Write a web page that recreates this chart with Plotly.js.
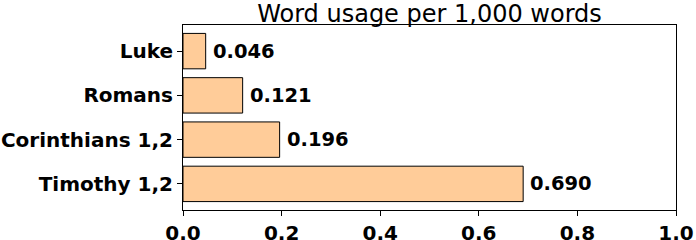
<!DOCTYPE html>
<html>
<head>
<meta charset="utf-8">
<script src="https://cdn.plot.ly/plotly-3.0.1.min.js"></script>
<style>
  html, body { margin: 0; padding: 0; background: #fff; }
  #chart { width: 696px; height: 240px; }
</style>
</head>
<body>
<div id="chart"></div>
<script>
// Word usage per 1,000 words, by book
const books = ["Luke", "Romans", "Corinthians 1,2", "Timothy 1,2"];
const usage = [0.046, 0.121, 0.196, 0.690];
const xTicks = [0, 0.2, 0.4, 0.6, 0.8, 1.0];
const xTickLabels = ["0.0", "0.2", "0.4", "0.6", "0.8", "1.0"];

const font = "DejaVu Sans, sans-serif";

const trace = {
  type: "bar",
  orientation: "h",
  y: books,
  x: usage,
  width: 0.8,
  marker: { color: "#ffcc99", line: { color: "#000", width: 1 } },
  hoverinfo: "none"
};

const annotations = usage.map((v, i) => ({
  x: v,
  y: books[i],
  xref: "x",
  yref: "y",
  text: v.toFixed(3),
  showarrow: false,
  xanchor: "left",
  yanchor: "middle",
  xshift: 5,
  font: { family: font, size: 19.5, color: "#000", weight: "bold" }
}));

const layout = {
  width: 696,
  height: 240,
  margin: { l: 183, r: 20, t: 25, b: 30 },
  paper_bgcolor: "#fff",
  plot_bgcolor: "#fff",
  showlegend: false,
  title: {
    text: "Word usage per 1,000 words",
    font: { family: font, size: 24, color: "#000" },
    x: 0.5, xref: "paper", xanchor: "center",
    y: 1, yref: "paper", yanchor: "bottom", pad: { b: 3 }
  },
  xaxis: {
    range: [0, 1],
    tickvals: xTicks,
    ticktext: xTickLabels,
    ticks: "outside",
    ticklen: 5,
    tickcolor: "#000",
    showgrid: false,
    zeroline: false,
    showline: true,
    linecolor: "#000",
    linewidth: 1,
    mirror: true,
    tickfont: { family: font, size: 20, color: "#000", weight: "bold" },
    fixedrange: true
  },
  yaxis: {
    range: [-0.59, 3.59],
    autorange: false,
    categoryorder: "array",
    categoryarray: books.slice().reverse(),
    ticks: "outside",
    ticklen: 5,
    tickcolor: "#000",
    showgrid: false,
    zeroline: false,
    showline: true,
    linecolor: "#000",
    linewidth: 1,
    mirror: true,
    tickfont: { family: font, size: 20, color: "#000", weight: "bold" },
    fixedrange: true
  },
  annotations: annotations
};

Plotly.newPlot("chart", [trace], layout, { displayModeBar: false, staticPlot: true });
</script>
</body>
</html>
